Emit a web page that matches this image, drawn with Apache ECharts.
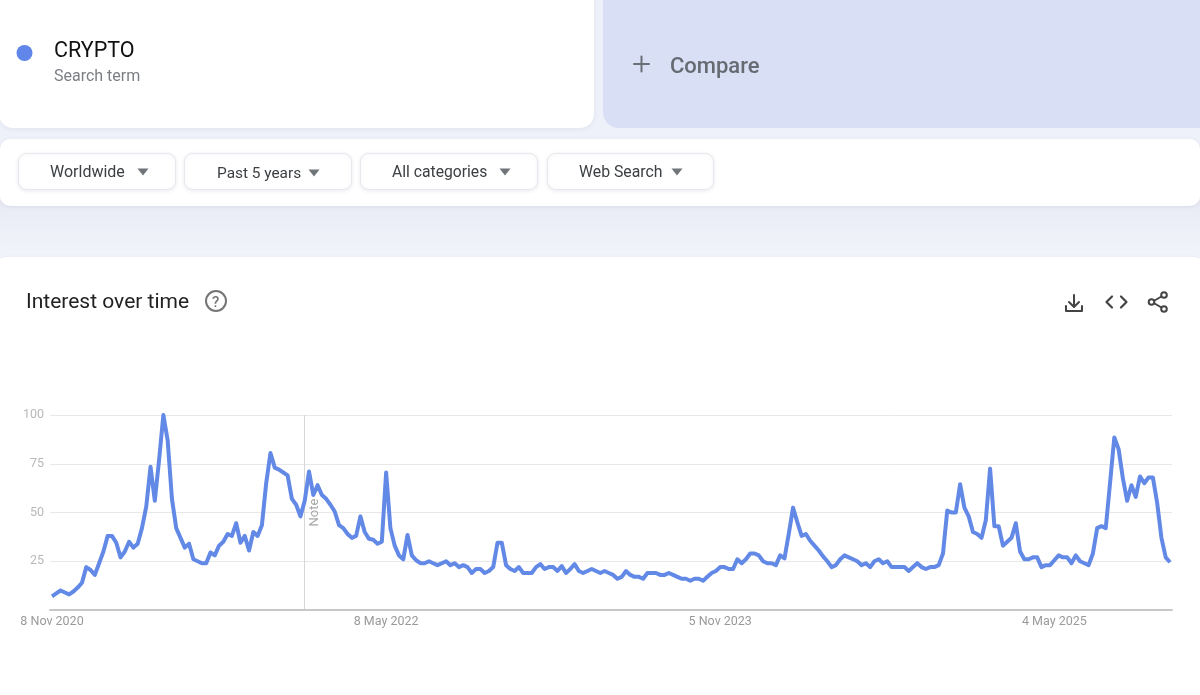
<!DOCTYPE html>
<html><head><meta charset="utf-8">
<style>html,body{margin:0;padding:0;background:#eef1f9}#c{width:1200px;height:695px}</style>
<script src="https://cdn.jsdelivr.net/npm/echarts@6/dist/echarts.min.js"></script>
</head><body><div id="c"></div>
<script>
const interest = [
7,8.5,10,9,8,9.5,11.5,14,22,20.5,18,24,30,38,38,34.5,27,30,35,32,
34,42,53,73.5,56,77,100,87,57,42,37,32,34,26,25,24,24,29.5,28,33,
35,39,38,44.5,34.5,38,30.5,40,38,43.5,65,80.5,73,72,70.5,69,57,54,48,56,
71,59,64,59,57,54,50.5,43.5,42,39,37,38,48,40,36.5,36,34,35,70.5,42,
33,28,26,38.5,28,25.5,24,24,25,24,23,24,25,23,24,22,23,22,19,21,
21,19,20,22,34.5,34.5,23,21,20,22,19,19,19,22,23.5,21,22,22,20,22.5,
19,21,23.5,20,19,20,21,20,19,20,19,18,16,17,20,18,17,17,16,19,
19,19,18,18,19,18,17,16,16,15,16,16,15,17,19,20,22,22,21,21,
26,24,26,29,29,28,25,24,24,23,28,26.5,39,52.5,45,38,39,35.5,33,30.5,
27.5,25,22,23,26,28,27,26,25,23,24,22,25,26,24,25,22,22,22,22,
20,22,24,22,21,22,22,23,29,51,50,50,64.5,52.5,48,40,39,37,46,72.5,
43,43,33,35,37,44.5,30,26,26,27,27,22,23,23,25.5,28,27,27,24,28,
25,24,23,29,42,43,42,65,88.5,82.5,67.5,56,64,58,68.5,65,68,68,55,37,
27,24.5];
const yTicks = [25, 50, 75, 100];
const xTickWeeks = [0, 78, 156, 234];
const xTickLabels = ['8 Nov 2020', '8 May 2022', '5 Nov 2023', '4 May 2025'];
const noteWeek = 59;
const noteLabel = 'Note';
const filterLabels = ['Worldwide', 'Past 5 years', 'All categories', 'Web Search'];

const seriesData = interest.map((v, i) => [i, v]);
const tickText = {};
xTickWeeks.forEach((t, i) => tickText[t] = xTickLabels[i]);

const FONT = 'Roboto, "Noto Sans", sans-serif';
const txt = (text, x, y, size, fill, weight) => ({
  type: 'text', silent: true, z: 5,
  style: { text, x, y, fill, font: `${weight || 400} ${size}px ${FONT}`, textVerticalAlign: 'middle' }
});
const card = (x, y, width, height, r, fill, shadow, stroke) => ({
  type: 'rect', silent: true, z: 1,
  shape: { x, y, width, height, r },
  style: Object.assign({ fill, stroke: stroke || null, lineWidth: stroke ? 1 : 0 },
    shadow ? { shadowBlur: 4, shadowColor: 'rgba(60,64,90,0.09)', shadowOffsetY: 1 } : {})
});
const tri = (cx, cy) => ({
  type: 'polygon', silent: true, z: 5,
  shape: { points: [[cx - 5.5, cy - 3.5], [cx + 5.5, cy - 3.5], [cx, cy + 3.5]] },
  style: { fill: '#70757a' }
});
const pl = (points, color, w) => ({
  type: 'polyline', silent: true, z: 5, shape: { points },
  style: { stroke: color, lineWidth: w, fill: null, lineCap: 'round', lineJoin: 'round' }
});
const ring = (cx, cy, r, color, w) => ({
  type: 'circle', silent: true, z: 5, shape: { cx, cy, r },
  style: { stroke: color, lineWidth: w, fill: '#fff' }
});

const btnBoxes = [[18, 157], [184, 167], [360, 177], [547, 166]];
const btnTextX = [50, 217, 392, 579];
const btnTriX = [143, 314, 505, 677];
const btnSizes = [16, 15.4, 15.7, 15.8];
const btnElements = [];
filterLabels.forEach((l, i) => {
  btnElements.push(card(btnBoxes[i][0] + 0.5, 153.5, btnBoxes[i][1], 36, 8, '#fff', true, '#e6e8ed'));
  btnElements.push(txt(l, btnTextX[i], i === 1 ? 174 : 173, btnSizes[i], '#3c4043'));
  btnElements.push(tri(btnTriX[i], i === 1 ? 173 : 172));
});

const iconColor = '#444';
const graphicElements = [
  { type: 'rect', silent: true, z: 0, shape: { x: 0, y: 200, width: 1200, height: 70 },
    style: { fill: { type: 'linear', x: 0, y: 0, x2: 0, y2: 1,
      colorStops: [{ offset: 0, color: '#e8ebf5' }, { offset: 1, color: '#f4f6fc' }] } } },
  card(-1, -20, 595, 148, 14, '#fff', true),
  card(603, -20, 620, 148, 16, '#d9dff4', false),
  card(0, 139, 1200, 67, 10, '#fff', true),
  card(-10, 257, 1220, 460, 18, '#fff', true),
  { type: 'circle', silent: true, z: 5, shape: { cx: 24.5, cy: 53, r: 8 }, style: { fill: '#5f86e8' } },
  txt('CRYPTO', 54, 52, 21.5, '#111'),
  txt('Search term', 54, 77, 16, '#7b7f84'),
  pl([[634, 64], [649, 64]], '#6b7078', 2),
  pl([[641.5, 56.5], [641.5, 71.5]], '#6b7078', 2),
  txt('Compare', 670, 67, 22, '#666a72', 500),
  ...btnElements,
  txt('Interest over time', 26, 303, 21, '#222'),
  ring(216, 301, 10, '#757575', 2),
  txt('?', 212, 303, 15, '#757575', 500),
  // download
  pl([[1074, 295], [1074, 306]], iconColor, 2),
  pl([[1069, 302], [1074, 307], [1079, 302]], iconColor, 2),
  pl([[1066, 306], [1066, 311], [1082, 311], [1082, 306]], iconColor, 2),
  // code
  pl([[1112, 296.5], [1106.5, 302], [1112, 307.5]], iconColor, 2.2),
  pl([[1121, 296.5], [1126.5, 302], [1121, 307.5]], iconColor, 2.2),
  // share
  pl([[1164, 295], [1152, 302], [1164, 309]], iconColor, 2),
  ring(1164, 295, 2.8, iconColor, 2),
  ring(1151.5, 302, 2.8, iconColor, 2),
  ring(1164, 309, 2.8, iconColor, 2)
];

const chart = echarts.init(document.getElementById('c'), null, { renderer: 'canvas' });
chart.setOption({
  animation: false,
  backgroundColor: '#eef1f9',
  grid: { left: 50, right: 28, top: 415, bottom: 85, containLabel: false },
  xAxis: {
    type: 'value', z: 2,
    min: -2 / 4.28,
    max: 261 + 2 / 4.28,
    axisLine: { show: true, onZero: false, lineStyle: { color: '#c8c8c8', width: 2 } },
    axisTick: { show: false },
    splitLine: { show: false },
    axisLabel: {
      customValues: xTickWeeks,
      formatter: v => tickText[v] || '',
      color: '#9a9a9a', fontSize: 12.5, fontFamily: FONT, margin: 5,
      hideOverlap: false, alignMinLabel: 'center', alignMaxLabel: 'center'
    }
  },
  yAxis: {
    type: 'value', z: 2, min: 0, max: 100, interval: 25,
    axisLine: { show: false }, axisTick: { show: false },
    splitLine: { lineStyle: { color: '#e8e8e8', width: 1 } },
    axisLabel: {
      color: '#b8b8b8', fontSize: 12.5, fontFamily: FONT, margin: 6, padding: [2, 0, 0, 0],
      formatter: v => yTicks.includes(v) ? String(v) : ''
    }
  },
  series: [{
    type: 'line', name: 'CRYPTO', data: seriesData, showSymbol: false, symbol: 'none', smooth: false, z: 3,
    lineStyle: { color: '#6389e6', width: 4, join: 'round' },
    markLine: {
      silent: true, symbol: 'none', animation: false, z: 2,
      lineStyle: { color: '#d6d6d6', width: 1, type: 'solid' },
      label: { show: true, formatter: noteLabel, position: 'insideMiddleBottom', rotate: 90, distance: 4,
        color: '#a8a8a8', fontSize: 13, fontFamily: FONT },
      data: [{ xAxis: noteWeek }]
    }
  }],
  graphic: { elements: graphicElements }
});
</script></body></html>
